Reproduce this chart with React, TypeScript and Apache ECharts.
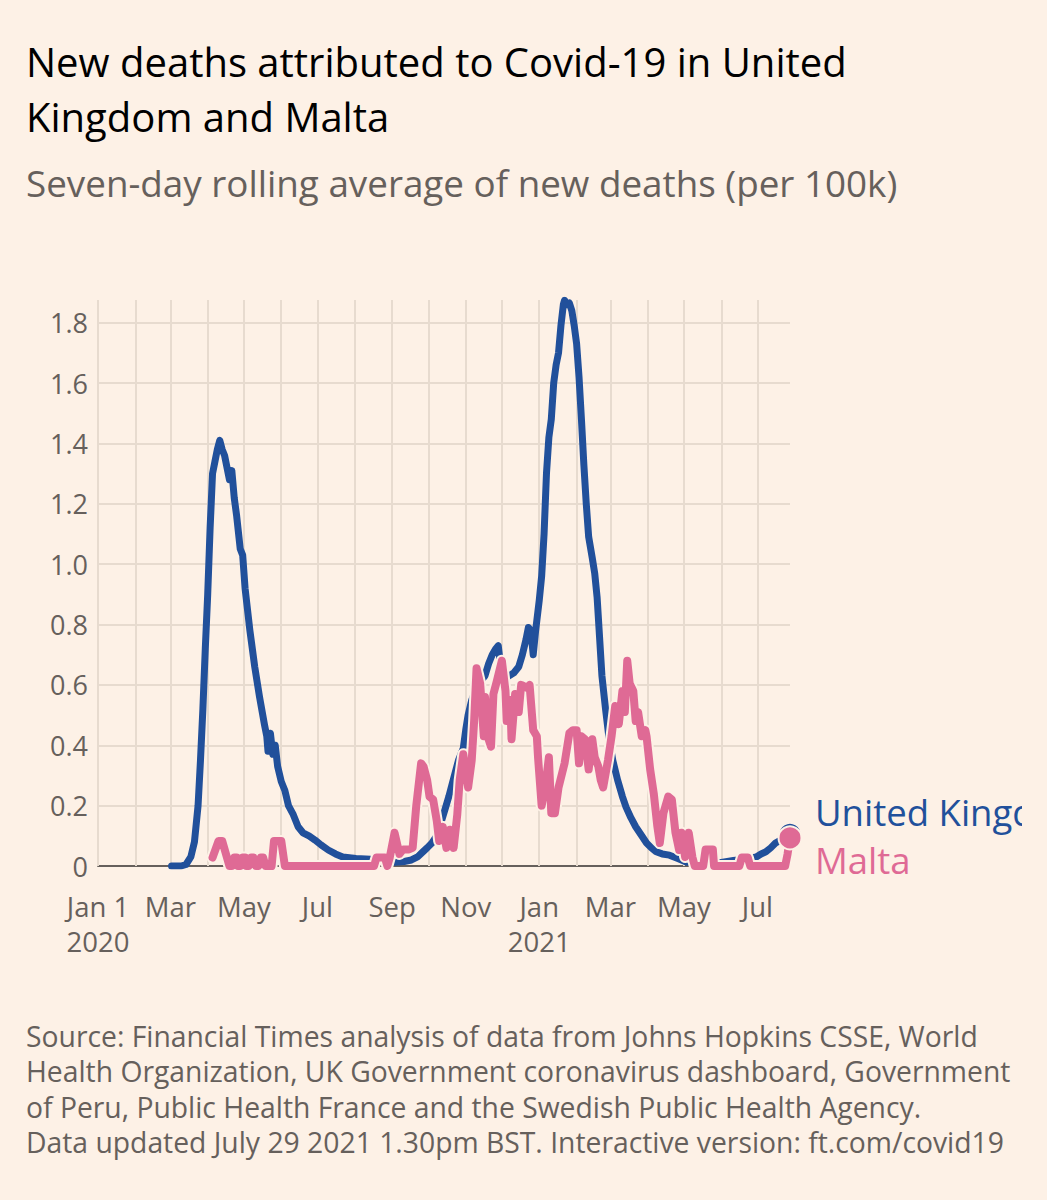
import { useEffect, useRef } from 'react'
import * as echarts from 'echarts'

const BG = '#fdf1e6'
const GRID = '#e7dbcf'
const INK = '#66605c'
const BLUE = '#21509b'
const PINK = '#df6a95'
const FONT = '"Open Sans", "Noto Sans", sans-serif'

// seven-day rolling average of new deaths per 100k
const ukDates = [
  '2020-03-02', '2020-03-10', '2020-03-14', '2020-03-18', '2020-03-21', '2020-03-24', '2020-03-26',
  '2020-03-28', '2020-03-30', '2020-04-01', '2020-04-03', '2020-04-05', '2020-04-07', '2020-04-09',
  '2020-04-11', '2020-04-13', '2020-04-15', '2020-04-17', '2020-04-19', '2020-04-21', '2020-04-23',
  '2020-04-25', '2020-04-28', '2020-04-30', '2020-05-02', '2020-05-06', '2020-05-10', '2020-05-14',
  '2020-05-18', '2020-05-20', '2020-05-21', '2020-05-23', '2020-05-25', '2020-05-27', '2020-05-29',
  '2020-06-01', '2020-06-04', '2020-06-07', '2020-06-11', '2020-06-15', '2020-06-19', '2020-06-24',
  '2020-06-29', '2020-07-04', '2020-07-10', '2020-07-16', '2020-07-22', '2020-08-02', '2020-08-14',
  '2020-08-23', '2020-09-03', '2020-09-11', '2020-09-17', '2020-09-22', '2020-09-26', '2020-09-30',
  '2020-10-04', '2020-10-08', '2020-10-12', '2020-10-15', '2020-10-18', '2020-10-22', '2020-10-26',
  '2020-10-30', '2020-11-01', '2020-11-03', '2020-11-06', '2020-11-09', '2020-11-13', '2020-11-17',
  '2020-11-20', '2020-11-23', '2020-11-26', '2020-11-28', '2020-11-30', '2020-12-03', '2020-12-07',
  '2020-12-11', '2020-12-15', '2020-12-18', '2020-12-21', '2020-12-23', '2020-12-25', '2020-12-27',
  '2020-12-29', '2021-01-01', '2021-01-03', '2021-01-05', '2021-01-07', '2021-01-09', '2021-01-11',
  '2021-01-13', '2021-01-15', '2021-01-17', '2021-01-19', '2021-01-21', '2021-01-22', '2021-01-24',
  '2021-01-26', '2021-01-28', '2021-01-30', '2021-02-01', '2021-02-03', '2021-02-05', '2021-02-07',
  '2021-02-09', '2021-02-11', '2021-02-14', '2021-02-16', '2021-02-18', '2021-02-20', '2021-02-22',
  '2021-02-25', '2021-02-28', '2021-03-03', '2021-03-07', '2021-03-11', '2021-03-14', '2021-03-18',
  '2021-03-22', '2021-03-27', '2021-03-31', '2021-04-04', '2021-04-08', '2021-04-13', '2021-04-19',
  '2021-04-26', '2021-05-03', '2021-05-12', '2021-05-22', '2021-06-01', '2021-06-11', '2021-06-19',
  '2021-06-25', '2021-06-30', '2021-07-04', '2021-07-08', '2021-07-12', '2021-07-16', '2021-07-20',
  '2021-07-24', '2021-07-28',
]
const ukValues = [
  0, 0, 0.005, 0.03, 0.08, 0.2, 0.35,
  0.52, 0.72, 0.9, 1.12, 1.3, 1.34, 1.38,
  1.41, 1.38, 1.36, 1.32, 1.28, 1.31, 1.22,
  1.16, 1.05, 1.03, 0.92, 0.78, 0.66, 0.56,
  0.47, 0.43, 0.38, 0.44, 0.37, 0.4, 0.33,
  0.28, 0.25, 0.2, 0.17, 0.13, 0.11, 0.1,
  0.086, 0.07, 0.053, 0.04, 0.03, 0.025, 0.022,
  0.015, 0.012, 0.015, 0.02, 0.03, 0.045, 0.06,
  0.076, 0.1, 0.15, 0.19, 0.23, 0.29, 0.35,
  0.39, 0.45, 0.5, 0.55, 0.58, 0.61, 0.63,
  0.67, 0.7, 0.72, 0.73, 0.66, 0.62, 0.63,
  0.64, 0.66, 0.7, 0.75, 0.79, 0.78, 0.7,
  0.78, 0.88, 0.96, 1.1, 1.3, 1.42, 1.48,
  1.6, 1.66, 1.7, 1.79, 1.86, 1.874, 1.86,
  1.865, 1.84, 1.79, 1.73, 1.62, 1.48, 1.33,
  1.2, 1.09, 1.02, 0.97, 0.89, 0.76, 0.63,
  0.52, 0.42, 0.35, 0.285, 0.23, 0.195, 0.16,
  0.13, 0.1, 0.076, 0.06, 0.047, 0.04, 0.036,
  0.025, 0.013, 0.01, 0.012, 0.012, 0.018, 0.022,
  0.026, 0.03, 0.04, 0.047, 0.06, 0.076, 0.085,
  0.098, 0.105,
]

const maltaDates = [
  '2020-04-05', '2020-04-10', '2020-04-13', '2020-04-17', '2020-04-19', '2020-04-21', '2020-04-23',
  '2020-04-25', '2020-04-26', '2020-04-28', '2020-04-30', '2020-05-02', '2020-05-03', '2020-05-05',
  '2020-05-07', '2020-05-09', '2020-05-11', '2020-05-13', '2020-05-15', '2020-05-17', '2020-05-19',
  '2020-05-24', '2020-05-26', '2020-06-01', '2020-06-04', '2020-08-17', '2020-08-19', '2020-08-26',
  '2020-08-28', '2020-08-30', '2020-09-03', '2020-09-07', '2020-09-10', '2020-09-15', '2020-09-18',
  '2020-09-21', '2020-09-25', '2020-09-27', '2020-09-30', '2020-10-02', '2020-10-05', '2020-10-08',
  '2020-10-10', '2020-10-13', '2020-10-16', '2020-10-19', '2020-10-22', '2020-10-25', '2020-10-27',
  '2020-10-30', '2020-11-03', '2020-11-06', '2020-11-08', '2020-11-10', '2020-11-13', '2020-11-16',
  '2020-11-17', '2020-11-20', '2020-11-22', '2020-11-24', '2020-11-27', '2020-12-01', '2020-12-04',
  '2020-12-05', '2020-12-08', '2020-12-09', '2020-12-12', '2020-12-15', '2020-12-17', '2020-12-22',
  '2020-12-24', '2020-12-27', '2020-12-30', '2020-12-31', '2021-01-03', '2021-01-06', '2021-01-09',
  '2021-01-11', '2021-01-14', '2021-01-17', '2021-01-22', '2021-01-26', '2021-01-29', '2021-02-01',
  '2021-02-03', '2021-02-05', '2021-02-08', '2021-02-11', '2021-02-14', '2021-02-16', '2021-02-19',
  '2021-02-21', '2021-02-23', '2021-02-27', '2021-03-02', '2021-03-05', '2021-03-08', '2021-03-11',
  '2021-03-13', '2021-03-15', '2021-03-17', '2021-03-20', '2021-03-22', '2021-03-24', '2021-03-27',
  '2021-03-30', '2021-03-31', '2021-04-03', '2021-04-06', '2021-04-09', '2021-04-11', '2021-04-14',
  '2021-04-18', '2021-04-21', '2021-04-24', '2021-04-27', '2021-04-29', '2021-05-02', '2021-05-05',
  '2021-05-08', '2021-05-10', '2021-05-17', '2021-05-19', '2021-05-25', '2021-05-26', '2021-06-16',
  '2021-06-18', '2021-06-23', '2021-06-25', '2021-07-24', '2021-07-26', '2021-07-28',
]
const maltaValues = [
  0.028, 0.083, 0.083, 0.028, 0, 0, 0.028,
  0.028, 0, 0, 0.028, 0.028, 0, 0,
  0.028, 0.028, 0, 0, 0.028, 0.028, 0,
  0, 0.083, 0.083, 0, 0, 0.028, 0.028,
  0, 0.028, 0.11, 0.04, 0.055, 0.055, 0.06,
  0.2, 0.34, 0.33, 0.285, 0.23, 0.22, 0.15,
  0.083, 0.13, 0.06, 0.12, 0.06, 0.17, 0.285,
  0.37, 0.26, 0.35, 0.48, 0.655, 0.605, 0.43,
  0.56, 0.42, 0.395, 0.57, 0.615, 0.68, 0.58,
  0.48, 0.55, 0.42, 0.57, 0.51, 0.6, 0.59,
  0.6, 0.45, 0.43, 0.36, 0.2, 0.26, 0.36,
  0.175, 0.175, 0.26, 0.34, 0.44, 0.45, 0.45,
  0.34, 0.43, 0.42, 0.32, 0.42, 0.36, 0.33,
  0.285, 0.26, 0.35, 0.43, 0.53, 0.47, 0.58,
  0.51, 0.68, 0.605, 0.58, 0.48, 0.51, 0.43,
  0.45, 0.43, 0.32, 0.24, 0.13, 0.076, 0.175,
  0.23, 0.22, 0.11, 0.053, 0.11, 0.03, 0.11,
  0.03, 0, 0, 0.055, 0.055, 0, 0,
  0.028, 0.028, 0, 0, 0.04, 0.093,
]

const gridMonths = [
  '2020-01-01', '2020-02-01', '2020-03-01', '2020-04-01', '2020-05-01', '2020-06-01', '2020-07-01',
  '2020-08-01', '2020-09-01', '2020-10-01', '2020-11-01', '2020-12-01', '2021-01-01', '2021-02-01',
  '2021-03-01', '2021-04-01', '2021-05-01', '2021-06-01', '2021-07-01',
]
const labelMonths = [
  '2020-01-01', '2020-03-01', '2020-05-01', '2020-07-01', '2020-09-01', '2020-11-01',
  '2021-01-01', '2021-03-01', '2021-05-01', '2021-07-01',
]
const monthLabels = ['Jan 1\n2020', 'Mar', 'May', 'Jul', 'Sep', 'Nov', 'Jan\n2021', 'Mar', 'May', 'Jul']

const titleLines = ['New deaths attributed to Covid-19 in United', 'Kingdom and Malta']
const subtitle = 'Seven-day rolling average of new deaths (per 100k)'
const footerLines = [
  'Source: Financial Times analysis of data from Johns Hopkins CSSE, World',
  'Health Organization, UK Government coronavirus dashboard, Government',
  'of Peru, Public Health France and the Swedish Public Health Agency.',
  'Data updated July 29 2021 1.30pm BST. Interactive version: ft.com/covid19',
]

function ts(d: string) {
  const [y, m, day] = d.split('-').map(Number)
  return new Date(y, m - 1, day).getTime()
}

export default function App() {
  const ref = useRef<HTMLDivElement>(null)

  useEffect(() => {
    if (!ref.current) return
    const chart = echarts.init(ref.current, undefined, { renderer: 'svg' })

    const uk = ukDates.map((d, i) => [ts(d), ukValues[i]])
    const malta = maltaDates.map((d, i) => [ts(d), maltaValues[i]])
    const labelTs = labelMonths.map(ts)

    const text = (x: number, y: number, t: string, size: number, fill: string) => ({
      type: 'text',
      x,
      y,
      silent: true,
      style: { text: t, fontSize: size, fontFamily: FONT, fill, verticalAlign: 'middle' },
    })

    chart.setOption({
      animation: false,
      backgroundColor: BG,
      grid: { left: 98, right: 232, top: 300, bottom: 334 },
      xAxis: {
        // timestamps on a linear axis, so month labels can be placed exactly
        type: 'value',
        min: ts('2020-01-01'),
        max: ts('2021-07-28'),
        axisLine: { show: true, onZero: false, lineStyle: { color: INK, width: 2 } },
        axisTick: { show: false },
        splitLine: { show: false },
        axisLabel: {
          customValues: labelTs,
          formatter: (v: number) => {
            const i = labelTs.findIndex((t) => Math.abs(t - v) < 86400000)
            return i >= 0 ? monthLabels[i] : ''
          },
          color: INK,
          fontSize: 27.5,
          lineHeight: 35,
          margin: 23,
          fontFamily: FONT,
          showMinLabel: true,
          showMaxLabel: true,
        },
      },
      yAxis: {
        type: 'value',
        min: 0,
        max: 1.875,
        interval: 0.2,
        axisLine: { show: false },
        axisTick: { show: false },
        splitLine: { show: true, showMaxLine: false, lineStyle: { color: GRID, width: 2 } },
        axisLabel: {
          showMaxLabel: false,
          formatter: (v: number) => (v === 0 ? '0' : v.toFixed(1)),
          color: INK,
          fontSize: 27,
          margin: 10,
          fontFamily: FONT,
        },
      },
      series: [
        {
          name: 'United Kingdom',
          type: 'line',
          data: uk,
          showSymbol: false,
          silent: true,
          z: 3,
          lineStyle: { color: BLUE, width: 7, cap: 'round', join: 'round' },
          markLine: {
            silent: true,
            z: 1,
            symbol: ['none', 'none'],
            label: { show: false },
            emphasis: { disabled: true },
            lineStyle: { color: GRID, width: 2, type: 'solid' },
            data: gridMonths.map((m) => ({ xAxis: ts(m) })),
          },
        },
        {
          name: 'halo',
          type: 'line',
          data: malta,
          showSymbol: false,
          silent: true,
          z: 4,
          lineStyle: { color: BG, width: 12, cap: 'round', join: 'round' },
        },
        {
          name: 'Malta',
          type: 'line',
          data: malta,
          showSymbol: false,
          silent: true,
          z: 5,
          lineStyle: { color: PINK, width: 8, cap: 'round', join: 'round' },
        },
        {
          type: 'scatter',
          data: [uk[uk.length - 1]],
          symbolSize: 23,
          silent: true,
          z: 6,
          itemStyle: { color: BLUE, borderColor: BG, borderWidth: 2, opacity: 1 },
        },
        {
          type: 'scatter',
          data: [malta[malta.length - 1]],
          symbolSize: 23,
          silent: true,
          z: 7,
          itemStyle: { color: PINK, borderColor: BG, borderWidth: 2, opacity: 1 },
        },
      ],
      graphic: [
        text(26, 61, titleLines[0], 40, '#000000'),
        text(26, 116, titleLines[1], 40, '#000000'),
        text(26, 183, subtitle, 36.8, INK),
        ...footerLines.map((l, i) => text(26, 1036 + i * 35.3, l, 28.3, INK)),
        text(815, 812, 'United Kingdom', 36.5, BLUE),
        text(815, 860, 'Malta', 36.5, PINK),
      ],
    })

    return () => chart.dispose()
  }, [])

  return (
    <div style={{ position: 'absolute', left: 0, top: 0, width: 1047, height: 1200, background: BG }}>
      <div ref={ref} style={{ width: 1022, height: 1200, overflow: 'hidden' }} />
    </div>
  )
}
